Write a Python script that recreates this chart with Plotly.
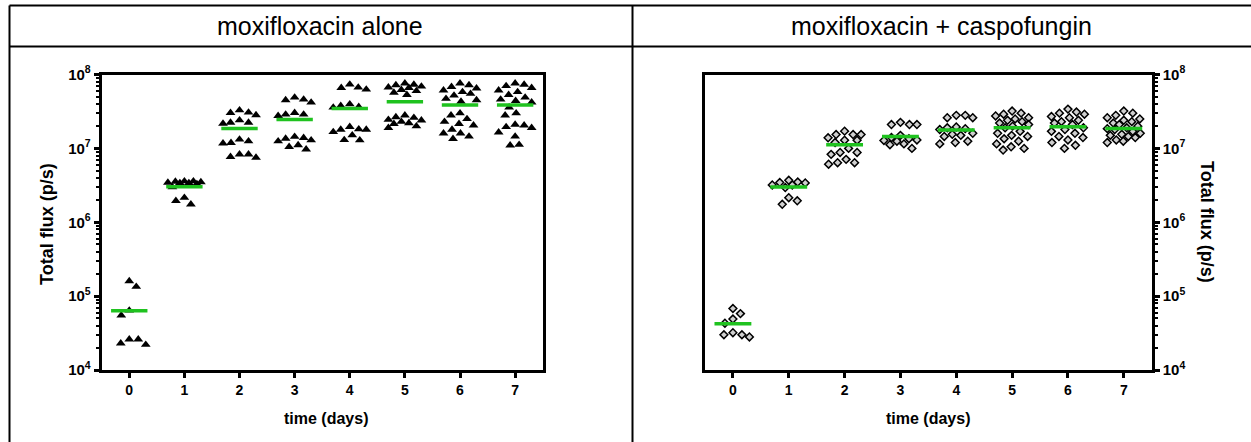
import numpy as np
import plotly.graph_objects as go

# ---------------- data ----------------
days = [0, 1, 2, 3, 4, 5, 6, 7]
day_labels = ["0", "1", "2", "3", "4", "5", "6", "7"]
panel_titles = ["moxifloxacin alone", "moxifloxacin + caspofungin"]
y_title = "Total flux (p/s)"
x_title = "time (days)"
y_tick_exponents = [4, 5, 6, 7, 8]

# moxifloxacin alone (filled triangles), one list per day
moxi_d0 = [1.34e5, 1.6e5, 6.4e4, 5.5e4, 2.6e4, 2.2e4, 2.3e4, 2.6e4]
moxi_d1 = [3.6e6, 3.5e6, 3.4e6, 3.55e6, 3.3e6, 3.45e6, 3.6e6, 3.4e6, 3.0e6, 2.15e6, 1.75e6, 1.95e6]
moxi_d2 = [3.29e7, 3.06e7, 3.03e7, 2.82e7, 2.24e7, 2.17e7, 2.24e7, 2.41e7,
           1.32e7, 1.19e7, 1.17e7, 1.25e7, 8.3e6, 7.5e6, 7.7e6, 8.3e6]
moxi_d3 = [4.89e7, 4.5e7, 4.18e7, 4.6e7, 2.88e7, 2.76e7, 2.88e7, 3.03e7,
           1.39e7, 1.29e7, 1.44e7, 1.25e7, 1.36e7, 1.11e7, 9.7e6, 1.05e7]
moxi_d4 = [7.33e7, 6.6e7, 6.27e7, 6.67e7, 3.77e7, 3.58e7, 3.65e7, 3.97e7,
           1.8e7, 1.82e7, 1.96e7, 1.51e7, 1.29e7, 1.3e7, 1.67e7, 1.8e7]
moxi_d5 = [7.6e7, 7.2e7, 6.9e7, 6.6e7, 6.2e7, 5.7e7, 5.3e7, 6.0e7, 6.7e7, 7.3e7,
           2.8e7, 2.6e7, 2.45e7, 2.3e7, 2.15e7, 2.0e7, 1.9e7, 2.2e7, 2.4e7, 2.65e7]
moxi_d6 = [7.6e7, 7.2e7, 6.8e7, 6.5e7, 6.1e7, 5.8e7, 5.5e7, 5.2e7, 4.7e7, 4.5e7, 4.3e7,
           3.0e7, 2.8e7, 2.5e7, 2.3e7, 2.15e7, 2.05e7, 1.8e7, 1.6e7, 1.45e7, 1.35e7, 1.6e7]
moxi_d7 = [7.6e7, 7.0e7, 6.6e7, 6.1e7, 5.8e7, 7.3e7, 5.3e7, 4.9e7, 4.4e7, 4.6e7, 4.2e7,
           3.0e7, 2.8e7, 2.1e7, 2.05e7, 1.95e7, 1.9e7, 1.65e7, 1.45e7, 1.1e7, 1.12e7, 3.6e7]
moxi_means = [6.35e4, 3.02e6, 1.86e7, 2.46e7, 3.47e7, 4.27e7, 3.85e7, 3.85e7]

# moxifloxacin + caspofungin (open diamonds)
combo_d0 = [6.8e4, 4.9e4, 5.8e4, 4.3e4, 3.0e4, 2.8e4, 3.0e4, 3.2e4]
combo_d1 = [3.5e6, 3.4e6, 3.2e6, 2.95e6, 3.2e6, 3.45e6, 3.7e6, 2.15e6, 1.75e6, 1.95e6]
combo_d2 = [1.54e7, 1.54e7, 1.71e7, 1.54e7, 1.29e7, 1.29e7, 1.39e7, 1.0e7,
            8.3e6, 8.8e6, 8.8e6, 6.4e6, 6.1e6, 6.4e6, 7.1e6, 1.2e7]
combo_d3 = [2.1e7, 2.1e7, 2.1e7, 2.25e7, 1.5e7, 1.35e7, 1.25e7, 1.15e7, 1.0e7,
            1.12e7, 1.3e7, 1.4e7, 1.28e7]
combo_d4 = [2.8e7, 2.6e7, 2.6e7, 2.8e7, 1.9e7, 1.8e7, 1.85e7, 1.95e7, 1.55e7,
            1.6e7, 1.25e7, 1.15e7, 1.2e7, 1.5e7, 1.45e7]
combo_d5 = [3.2e7, 3.0e7, 2.9e7, 2.75e7, 2.6e7, 2.5e7, 2.4e7, 2.3e7, 2.2e7, 2.1e7, 2.0e7,
            1.9e7, 1.7e7, 1.6e7, 1.5e7, 1.45e7, 1.35e7, 1.25e7, 1.15e7, 1.05e7, 1.0e7, 9.5e6]
combo_d6 = [3.4e7, 3.1e7, 2.9e7, 3.0e7, 2.7e7, 2.6e7, 2.4e7, 2.3e7, 2.2e7, 2.1e7,
            1.8e7, 1.7e7, 1.6e7, 1.45e7, 1.4e7, 1.3e7, 1.2e7, 1.1e7, 1.0e7, 1.9e7]
combo_d7 = [3.2e7, 3.0e7, 2.8e7, 2.6e7, 2.5e7, 2.4e7, 2.3e7, 2.2e7, 2.1e7, 2.0e7, 1.9e7,
            1.85e7, 1.8e7, 1.7e7, 1.6e7, 1.55e7, 1.45e7, 1.4e7, 1.3e7, 1.25e7, 1.2e7, 1.5e7]
combo_means = [4.24e4, 2.99e6, 1.12e7, 1.45e7, 1.77e7, 1.9e7, 1.96e7, 1.86e7]

moxi_groups = [moxi_d0, moxi_d1, moxi_d2, moxi_d3, moxi_d4, moxi_d5, moxi_d6, moxi_d7]
combo_groups = [combo_d0, combo_d1, combo_d2, combo_d3, combo_d4, combo_d5, combo_d6, combo_d7]

# ---------------- layout geometry (pixels) ----------------
W, H = 1251, 442
def px(x):
    return x / W
def py(y):
    return 1 - y / H

L_X0, L_X1 = 101.7, 542.7
R_X0, R_X1 = 705.0, 1151.7
Y_TOP, Y_BOT = 74.5, 370.0
X_RANGE = [-0.5, 7.5]
Y_RANGE = [4, 8]
PPD_Y = (Y_BOT - Y_TOP) / (Y_RANGE[1] - Y_RANGE[0])


def swarm_offsets(vals, ppu_x, d=9.0, limit=0.30):
    """Deterministic beeswarm limited in width: offsets (data units) around the centre."""
    y = np.log10(np.asarray(vals, float)) * PPD_Y
    order = np.argsort(-y, kind="stable")
    lim = limit * ppu_x
    grid = np.arange(0, lim + 0.01, 0.5)
    cands = [0.0]
    for g in grid[1:]:
        cands += [g, -g]
    placed = []
    offs = np.zeros(len(y))
    for i in order:
        best, best_score = None, -1.0
        s = sum(p for p, _ in placed)
        for c in cands:
            cc = -c if s > 0 else c
            if placed:
                md = min(np.hypot(cc - p, y[i] - q) for p, q in placed)
            else:
                md = np.inf
            if md >= d:
                best = cc
                break
            if md > best_score + 1e-9:
                best, best_score = cc, md
        placed.append((best, y[i]))
        offs[i] = best
    return offs / ppu_x


fig = go.Figure()

GREEN = "#1fc21f"

def add_panel(groups, means, xa, ya, ppu_x, symbol, mcolor, lcolor, lwidth, size):
    xs, ys = [], []
    for dday, vals in zip(days, groups):
        offs = swarm_offsets(vals, ppu_x)
        xs.extend(list(dday + offs))
        ys.extend(vals)
    fig.add_trace(go.Scatter(
        x=xs, y=ys, mode="markers", xaxis=xa, yaxis=ya, showlegend=False,
        marker=dict(symbol=symbol, size=size, color=mcolor,
                    line=dict(color=lcolor, width=lwidth)),
        hoverinfo="skip"))
    mx, my = [], []
    for dday, m in zip(days, means):
        mx += [dday - 0.33, dday + 0.33, None]
        my += [m, m, None]
    fig.add_trace(go.Scatter(
        x=mx, y=my, mode="lines", xaxis=xa, yaxis=ya, showlegend=False,
        line=dict(color=GREEN, width=3.5), hoverinfo="skip"))

ppu_left = (L_X1 - L_X0) / (X_RANGE[1] - X_RANGE[0])
ppu_right = (R_X1 - R_X0) / (X_RANGE[1] - X_RANGE[0])

add_panel(moxi_groups, moxi_means, "x", "y", ppu_left,
          "triangle-up", "black", "black", 0, 8.5)
add_panel(combo_groups, combo_means, "x2", "y2", ppu_right,
          "diamond", "#d0d0d0", "black", 1.5, 6.0)

FONT = "Liberation Sans, Arial, sans-serif"
y_tickvals = [10 ** e for e in y_tick_exponents]
y_ticktext = [f"<b>10<sup>{e}</sup></b>" for e in y_tick_exponents]
minor_vals = [m * 10 ** e for e in y_tick_exponents[:-1] for m in range(2, 10)]

def xaxis_cfg(x0, x1, anchor):
    return dict(domain=[px(x0), px(x1)], range=X_RANGE, anchor=anchor,
                tickmode="array", tickvals=days,
                ticktext=[f"<b>{t}</b>" for t in day_labels],
                tickfont=dict(family=FONT, size=14, color="black"),
                ticks="outside", ticklen=5, tickwidth=2.5, tickcolor="black",
                showline=True, linewidth=3, linecolor="black", mirror=True,
                showgrid=False, zeroline=False, fixedrange=True, automargin=False)

def yaxis_cfg(anchor, side):
    return dict(domain=[py(Y_BOT), py(Y_TOP)], type="log", range=Y_RANGE,
                anchor=anchor, side=side,
                tickmode="array", tickvals=y_tickvals, ticktext=y_ticktext,
                tickfont=dict(family=FONT, size=15, color="black"),
                ticks="outside", ticklen=5, tickwidth=2.5, tickcolor="black",
                minor=dict(tickmode="array", tickvals=minor_vals, ticks="outside",
                           ticklen=3, tickwidth=1.5, tickcolor="black", showgrid=False),
                showline=True, linewidth=3, linecolor="black", mirror=True,
                showgrid=False, zeroline=False, fixedrange=True, automargin=False)

shapes = []
LW = 2
for (x0, y0, x1, y1) in [(9.5, 5.5, W + 5, 5.5), (9.5, 46.5, W + 5, 46.5),
                         (9.5, 5.5, 9.5, H + 5), (632.5, 5.5, 632.5, H + 5)]:
    shapes.append(dict(type="line", xref="paper", yref="paper",
                       x0=px(x0), y0=py(y0), x1=px(x1), y1=py(y1),
                       line=dict(color="black", width=LW)))

annotations = [
    dict(text=panel_titles[0], x=px(320), y=py(26), xref="paper", yref="paper",
         showarrow=False, xanchor="center", yanchor="middle",
         font=dict(family=FONT, size=25, color="black")),
    dict(text=panel_titles[1], x=px(941), y=py(26), xref="paper", yref="paper",
         showarrow=False, xanchor="center", yanchor="middle",
         font=dict(family=FONT, size=25, color="black")),
    dict(text=f"<b>{y_title}</b>", x=px(47), y=py(224), xref="paper", yref="paper",
         showarrow=False, xanchor="center", yanchor="middle", textangle=-90,
         font=dict(family=FONT, size=18, color="black")),
    dict(text=f"<b>{y_title}</b>", x=px(1207), y=py(222), xref="paper", yref="paper",
         showarrow=False, xanchor="center", yanchor="middle", textangle=90,
         font=dict(family=FONT, size=18, color="black")),
    dict(text=f"<b>{x_title}</b>", x=px(326), y=py(418), xref="paper", yref="paper",
         showarrow=False, xanchor="center", yanchor="middle",
         font=dict(family=FONT, size=16, color="black")),
    dict(text=f"<b>{x_title}</b>", x=px(928), y=py(418), xref="paper", yref="paper",
         showarrow=False, xanchor="center", yanchor="middle",
         font=dict(family=FONT, size=16, color="black")),
]

fig.update_layout(
    width=W, height=H, autosize=False, margin=dict(l=0, r=0, t=0, b=0, pad=0),
    paper_bgcolor="white", plot_bgcolor="white", showlegend=False,
    xaxis=xaxis_cfg(L_X0, L_X1, "y"),
    yaxis=yaxis_cfg("x", "left"),
    xaxis2=xaxis_cfg(R_X0, R_X1, "y2"),
    yaxis2=yaxis_cfg("x2", "right"),
    shapes=shapes, annotations=annotations,
)

fig.write_html(
    "out.html",
    config={"responsive": False, "displayModeBar": False},
    post_script="document.body.style.margin='0';document.body.style.overflow='hidden';",
)
